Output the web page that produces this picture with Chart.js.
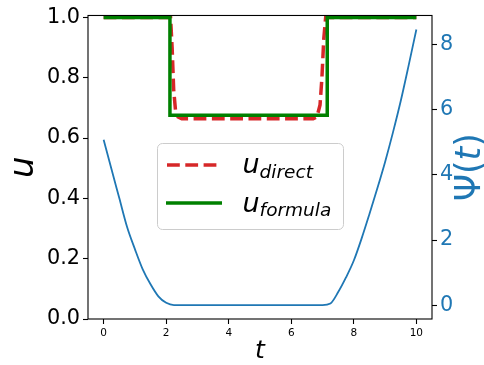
<!DOCTYPE html>
<html lang="en">
<head>
<meta charset="UTF-8" />
<title>u and Psi(t)</title>
<script src="https://cdn.jsdelivr.net/npm/chart.js"></script>
<style>
  html, body { margin: 0; padding: 0; background: #fff; }
  #wrap { width: 484px; height: 365px; }
</style>
</head>
<body>
<div id="wrap"><canvas id="chart" width="484" height="365"></canvas></div>
<script>
// data
const tFormula = [0, 2.12, 2.12, 7.15, 7.15, 10];
const uFormula = [1.0, 1.0, 0.676, 0.676, 1.0, 1.0];

const tDirect = [0, 2.14, 2.19, 2.24, 2.3, 2.38, 2.5, 6.7, 6.82, 6.92, 6.98, 7.04, 7.1, 10];
const uDirect = [1.0, 1.0, 0.9, 0.76, 0.69, 0.67, 0.664, 0.664, 0.67, 0.71, 0.8, 0.93, 1.0, 1.0];

const tPsi = [0, 0.25, 0.5, 0.75, 1, 1.25, 1.5, 1.75, 2, 2.25, 3, 4, 5, 6, 7, 7.25, 7.5, 7.75, 8, 8.25, 8.5, 8.75, 9, 9.25, 9.5, 9.75, 10];
const psi = [5.08, 4.18, 3.29, 2.4, 1.72, 1.1, 0.64, 0.27, 0.07, 0, 0, 0, 0, 0, 0, 0.05, 0.4, 0.85, 1.37, 2.05, 2.8, 3.58, 4.4, 5.3, 6.27, 7.35, 8.47];

const xTicks = [0, 2, 4, 6, 8, 10];
const uTicks = [0, 0.2, 0.4, 0.6, 0.8, 1.0];
const uTickLabels = ['0.0', '0.2', '0.4', '0.6', '0.8', '1.0'];
const psiTicks = [0, 2, 4, 6, 8];
const psiTickLabels = ['0', '2', '4', '6', '8'];

const FONT = 'DejaVu Sans';
const BLUE = '#1f77b4';

function pts(xs, ys) {
  return xs.map((x, i) => ({ x: x, y: ys[i] }));
}

// frame, Psi(t) label and legend drawn on top
const extras = {
  id: 'extras',
  afterDraw(chart) {
    const ctx = chart.ctx;
    const a = chart.chartArea;
    ctx.save();
    ctx.strokeStyle = '#000';
    ctx.lineWidth = 1.1;
    ctx.strokeRect(a.left, a.top, a.right - a.left, a.bottom - a.top);

    // right axis label, reading upward
    ctx.translate(471, (a.top + a.bottom) / 2);
    ctx.rotate(-Math.PI / 2);
    ctx.fillStyle = BLUE;
    ctx.textBaseline = 'middle';
    const f1 = '34.7px "' + FONT + '"';
    const f2 = 'italic 34.7px "' + FONT + '"';
    const parts = [['\u03A8(', f1], ['t', f2], [')', f1]];
    let w = 0;
    parts.forEach(p => { ctx.font = p[1]; w += ctx.measureText(p[0]).width; });
    let x = -w / 2;
    parts.forEach(p => { ctx.font = p[1]; ctx.fillText(p[0], x, 0); x += ctx.measureText(p[0]).width; });
    ctx.restore();

    // legend
    ctx.save();
    const bx = 157, by = 143, bw = 186, bh = 86, r = 5;
    ctx.beginPath();
    ctx.roundRect(bx + 0.5, by + 0.5, bw, bh, r);
    ctx.fillStyle = 'rgba(255,255,255,0.8)';
    ctx.fill();
    ctx.strokeStyle = '#cccccc';
    ctx.lineWidth = 1;
    ctx.stroke();

    ctx.lineWidth = 3.5;
    ctx.strokeStyle = '#d62728';
    ctx.setLineDash([12.8, 5.5]);
    ctx.beginPath(); ctx.moveTo(167, 165); ctx.lineTo(221, 165); ctx.stroke();
    ctx.setLineDash([]);
    ctx.strokeStyle = 'green';
    ctx.beginPath(); ctx.moveTo(166, 203); ctx.lineTo(222, 203); ctx.stroke();

    ctx.fillStyle = '#000';
    ctx.textBaseline = 'alphabetic';
    const rows = [['direct', 173], ['formula', 211.5]];
    rows.forEach(row => {
      ctx.font = 'italic 27px "' + FONT + '"';
      ctx.fillText('u', 242.5, row[1]);
      const uw = ctx.measureText('u').width;
      ctx.font = 'italic 18.5px "' + FONT + '"';
      ctx.fillText(row[0], 242.5 + uw, row[1] + 4.7);
    });
    ctx.restore();
  }
};

new Chart(document.getElementById('chart'), {
  type: 'line',
  data: {
    datasets: [
      {
        label: '\u03A8(t)',
        data: pts(tPsi, psi),
        yAxisID: 'y1',
        borderColor: BLUE,
        borderWidth: 1.8,
        pointRadius: 0,
        cubicInterpolationMode: 'monotone',
        order: 0
      },
      {
        label: 'u_formula',
        data: pts(tFormula, uFormula),
        yAxisID: 'y',
        borderColor: 'green',
        borderWidth: 3.5,
        pointRadius: 0,
        tension: 0,
        order: 1
      },
      {
        label: 'u_direct',
        data: pts(tDirect, uDirect),
        yAxisID: 'y',
        borderColor: '#d62728',
        borderWidth: 3.5,
        borderDash: [12.8, 5.5],
        pointRadius: 0,
        tension: 0,
        order: 2
      }
    ]
  },
  options: {
    responsive: false,
    animation: false,
    layout: { padding: { top: 13, left: 0, right: 0, bottom: 0 } },
    plugins: { legend: { display: false }, tooltip: { enabled: false } },
    scales: {
      x: {
        type: 'linear',
        position: 'bottom',
        min: -0.5,
        max: 10.5,
        afterBuildTicks: s => { s.ticks = xTicks.map(v => ({ value: v })); },
        afterFit: s => { s.height = 46; },
        border: { display: false },
        grid: { drawOnChartArea: false, tickLength: 5, tickWidth: 1.1, tickColor: '#000' },
        ticks: { color: '#000', font: { family: FONT, size: 10.5 }, padding: 3, maxRotation: 0, callback: v => String(v) },
        title: { display: true, text: 't', color: '#000', font: { family: FONT, size: 25, style: 'italic', lineHeight: 1 }, padding: { top: 0, bottom: 1 } }
      },
      y: {
        type: 'linear',
        position: 'left',
        min: 0,
        max: 1.0066,
        afterBuildTicks: s => { s.ticks = uTicks.map(v => ({ value: v })); },
        afterFit: s => { s.width = 88; },
        border: { display: false },
        grid: { drawOnChartArea: false, tickLength: 5, tickWidth: 1.1, tickColor: '#000' },
        ticks: { color: '#000', font: { family: FONT, size: 20.8 }, padding: 3, callback: (v, i) => uTickLabels[i] },
        title: { display: true, text: 'u', color: '#000', font: { family: FONT, size: 34, style: 'italic', lineHeight: 1 }, padding: { top: 7, bottom: 0 } }
      },
      y1: {
        type: 'linear',
        position: 'right',
        min: -0.427,
        max: 8.9,
        afterBuildTicks: s => { s.ticks = psiTicks.map(v => ({ value: v })); },
        afterFit: s => { s.width = 52; },
        border: { display: false },
        grid: { drawOnChartArea: false, tickLength: 5, tickWidth: 1.1, tickColor: '#000' },
        ticks: { color: BLUE, font: { family: FONT, size: 20.8 }, padding: 3, callback: (v, i) => psiTickLabels[i] }
      }
    }
  },
  plugins: [extras]
});
</script>
</body>
</html>
